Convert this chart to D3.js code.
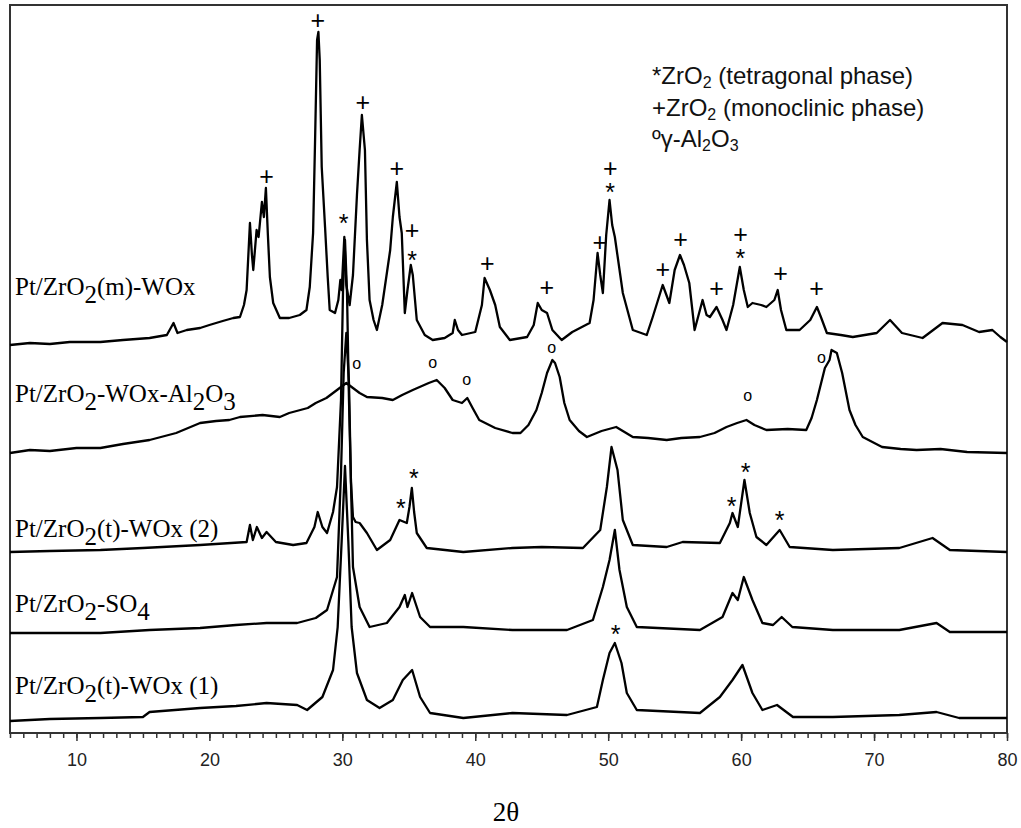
<!DOCTYPE html>
<html>
<head>
<meta charset="utf-8">
<script src="https://cdn.jsdelivr.net/npm/d3@7"></script>
<style>
body { margin: 0; background: #fff; }
</style>
</head>
<body>
<div id="chartDiv"></div>
<script>
// x axis (2θ)
var thetaRange = [5, 80];
var majorTicks = [10, 20, 30, 40, 50, 60, 70, 80];

// sample names, index 0 = top trace
var sampleNames = ["Pt/ZrO_2(m)-WOx", "Pt/ZrO_2-WOx-Al_2O_3", "Pt/ZrO_2(t)-WOx (2)", "Pt/ZrO_2-SO_4", "Pt/ZrO_2(t)-WOx (1)"];
// vertical shift of each pattern (a.u.)
var offsets = [388, 280, 181, 100, 12];

// patterns: [2θ, intensity a.u.]
var s_mWOx = [[5.0,0],[6.5,2],[8.0,1],[9.5,3],[11.8,3],[13.5,5],[15.5,7],[16.8,10],[17.3,22],[17.6,12],[18.3,15],[19.3,17],[20.0,20],[21.0,24],[21.8,27],[22.3,28],[22.6,40],[22.8,55],[23.05,122],[23.2,90],[23.3,75],[23.55,115],[23.7,108],[23.95,143],[24.1,128],[24.25,157],[24.4,110],[24.55,68],[24.8,42],[25.3,27],[26.0,27],[26.8,30],[27.3,35],[27.55,58],[27.8,112],[27.95,205],[28.1,305],[28.2,313],[28.3,285],[28.45,178],[28.7,118],[28.9,68],[29.05,35],[29.45,32],[29.7,45],[29.85,65],[29.95,55],[30.15,108],[30.3,60],[30.55,40],[30.8,70],[31.1,150],[31.3,195],[31.47,230],[31.7,195],[31.85,105],[32.05,45],[32.35,25],[32.6,15],[33.0,40],[33.35,72],[33.6,95],[33.8,128],[34.1,163],[34.3,128],[34.47,112],[34.7,32],[34.9,55],[35.15,80],[35.3,70],[35.6,25],[36.2,10],[36.8,5],[37.7,7],[38.3,12],[38.46,25],[38.7,15],[39.0,10],[40.0,13],[40.5,40],[40.7,67],[41.1,55],[41.5,40],[41.85,18],[42.6,5],[43.9,8],[44.4,20],[44.7,42],[45.0,35],[45.4,32],[45.8,15],[46.5,5],[47.3,13],[48.6,22],[48.9,45],[49.2,92],[49.4,70],[49.6,52],[49.85,110],[50.1,145],[50.3,120],[50.5,108],[51.1,52],[51.85,15],[52.9,10],[53.35,28],[54.1,60],[54.6,42],[55.0,75],[55.4,90],[55.7,80],[56.1,62],[56.5,15],[57.1,45],[57.4,30],[57.65,28],[58.15,38],[58.6,25],[58.9,15],[59.4,40],[59.9,78],[60.2,55],[60.5,38],[60.85,42],[61.5,40],[61.9,38],[62.5,45],[62.75,55],[63.0,35],[63.4,15],[64.4,15],[65.2,25],[65.7,38],[66.0,28],[66.45,12],[67.5,10],[68.4,8],[70.2,12],[71.2,25],[72.1,12],[73.65,7],[75.15,22],[76.65,20],[77.9,13],[78.9,15],[79.5,8],[80.0,3]];

var s_WOxAl = [[5.0,0],[6.5,3],[8.0,2],[10.0,5],[11.8,5],[13.5,9],[15.5,13],[17.5,20],[19.3,30],[20.5,32],[21.5,33],[22.3,36],[24.0,38],[25.3,36],[26.0,40],[27.4,45],[28.0,50],[28.8,55],[29.6,63],[30.3,70],[30.8,65],[31.3,60],[31.85,56],[33.0,55],[33.8,53],[34.5,58],[35.3,63],[36.5,70],[37.1,73],[37.7,65],[38.3,53],[39.0,50],[39.4,55],[39.8,45],[40.3,33],[41.5,25],[42.8,20],[43.4,20],[44.0,28],[44.6,43],[45.0,60],[45.4,80],[45.8,93],[46.0,90],[46.35,76],[46.7,50],[47.1,33],[47.8,22],[48.4,16],[49.5,22],[50.6,26],[51.1,22],[51.85,16],[53.0,15],[54.4,13],[55.5,15],[56.9,16],[58.0,20],[58.9,26],[59.7,30],[60.4,33],[61.0,28],[61.9,23],[63.5,24],[64.9,23],[65.3,35],[65.7,53],[66.3,85],[66.65,93],[66.8,103],[67.2,100],[67.6,80],[68.15,43],[68.6,28],[69.15,16],[70.6,6],[72.0,4],[73.2,3],[75.0,4],[77.0,1],[80.0,0]];

var s_tWOx2 = [[5.0,0],[8.0,1],[11.8,2],[15.0,4],[19.3,7],[22.8,10],[23.05,27],[23.27,12],[23.57,25],[23.95,14],[24.3,20],[25.0,10],[26.3,7],[27.3,9],[27.9,25],[28.15,40],[28.5,25],[28.85,19],[29.3,40],[29.6,65],[29.9,152],[30.05,260],[30.2,312],[30.35,260],[30.5,152],[30.65,70],[30.8,35],[31.0,30],[31.3,29],[31.85,19],[32.6,2],[33.6,12],[34.3,32],[34.85,29],[35.05,45],[35.23,64],[35.4,40],[35.6,19],[36.35,4],[39.1,0],[42.8,4],[45.0,5],[48.1,4],[49.4,22],[49.9,65],[50.25,105],[50.7,82],[51.1,32],[51.85,7],[54.4,5],[55.6,10],[58.4,9],[59.15,29],[59.35,39],[59.75,25],[60.25,72],[60.65,39],[61.15,15],[61.9,7],[62.9,22],[63.65,5],[66.9,2],[71.9,4],[74.4,14],[75.7,2],[80.0,0]];

var s_SO4 = [[5.0,0],[8.0,0],[11.8,0],[15.5,3],[19.3,5],[22.0,8],[24.3,10],[26.6,10],[28.0,15],[28.85,23],[29.6,56],[29.9,160],[30.1,260],[30.3,300],[30.5,250],[30.65,150],[30.8,66],[31.3,26],[32.05,6],[33.35,10],[34.3,26],[34.7,38],[34.9,26],[35.25,40],[35.85,16],[36.6,6],[39.1,6],[42.8,3],[46.9,3],[48.85,13],[49.6,46],[50.1,73],[50.5,103],[50.85,63],[51.4,26],[52.15,6],[56.9,3],[58.6,16],[59.35,40],[59.75,33],[60.2,56],[60.85,33],[61.6,10],[62.4,8],[63.05,16],[63.85,6],[66.9,3],[71.9,3],[74.7,10],[75.7,1],[80.0,1]];

var s_tWOx1 = [[5.0,0],[8.0,2],[11.8,3],[15.0,4],[15.5,9],[19.3,13],[22.0,15],[24.3,18],[26.6,16],[27.35,11],[28.5,24],[29.3,51],[29.65,94],[29.95,180],[30.2,255],[30.45,180],[30.7,94],[31.1,48],[31.85,21],[32.8,13],[33.8,21],[34.55,41],[35.25,51],[35.85,24],[36.6,8],[39.1,3],[42.8,8],[46.9,6],[49.15,14],[49.6,41],[50.1,68],[50.5,78],[51.0,58],[51.4,28],[52.15,11],[56.9,8],[58.4,24],[59.35,41],[60.1,56],[60.85,28],[61.6,11],[62.7,16],[63.9,4],[66.9,4],[71.9,6],[74.7,9],[76.4,3],[80.0,3]];

var patterns = [s_mWOx, s_WOxAl, s_tWOx2, s_SO4, s_tWOx1];

// phase markers: [trace index, 2θ, symbols (top to bottom), height of top symbol above the trace offset, gap between stacked symbols]
var peakMarks = [
  [0,24.3,"+",169,0],[0,28.16,"+",325,0],[0,30.1,"*",127,0],[0,31.54,"+",243,0],[0,34.1,"+",177,0],
  [0,35.25,"+*",115,25],[0,40.9,"+",82,0],[0,45.38,"+",58,0],[0,49.36,"+",103,0],
  [0,50.15,"+*",177,19],[0,54.1,"+",76,0],[0,55.45,"+",106,0],[0,58.16,"+",57,0],
  [0,59.95,"+*",111,19],[0,62.97,"+",72,0],[0,65.68,"+",57,0],
  [1,31.09,"o",88,0],[1,36.8,"o",89,0],[1,39.36,"o",72,0],[1,45.75,"o",104,0],[1,60.49,"o",56,0],[1,66.05,"o",94,0],
  [2,34.4,"*",49,0],[2,35.38,"*",79,0],[2,59.29,"*",51,0],[2,60.34,"*",85,0],[2,62.89,"*",37,0],
  [4,50.56,"*",92,0]
];

var legendLines = ["*ZrO_2 (tetragonal phase)", "+ZrO_2 (monoclinic phase)", "\u00BA\u03B3-Al_2O_3"];

var svg = d3.select("#chartDiv").append("svg")
    .attr("width", 1021)
    .attr("height", 828);

var margin = {top: 5, right: 13, bottom: 95, left: 10};
var width = 1021 - margin.left - margin.right,
    height = 828 - margin.top - margin.bottom;

var x_scale = d3.scaleLinear().domain(thetaRange).range([margin.left, margin.left + width - 1]);
var y_scale = d3.scaleLinear().domain([0, height]).range([margin.top + height, margin.top]);

// frame
svg.append("rect")
    .attr("x", margin.left).attr("y", margin.top)
    .attr("width", width - 1).attr("height", height)
    .attr("fill", "none").attr("stroke", "#333").attr("stroke-width", 2);

// minor ticks every degree, major every 10
var minorAxis = d3.axisBottom(x_scale).tickValues(d3.range(thetaRange[0], thetaRange[1] + 1, 1))
    .tickSize(5).tickFormat("");
var majorAxis = d3.axisBottom(x_scale).tickValues(majorTicks).tickSize(8).tickPadding(12)
    .tickFormat(d3.format("d"));

var gMinor = svg.append("g").attr("transform", "translate(0," + (margin.top + height) + ")").call(minorAxis);
var gMajor = svg.append("g").attr("transform", "translate(0," + (margin.top + height) + ")").call(majorAxis);
gMinor.select(".domain").remove();
gMajor.select(".domain").remove();
svg.selectAll(".tick line").attr("stroke", "#333").attr("stroke-width", 1.5);
gMajor.selectAll(".tick text")
    .attr("font-family", "Liberation Sans, Arial, sans-serif")
    .attr("font-size", 18).attr("fill", "#222");

svg.append("text")
    .attr("x", 506).attr("y", 821)
    .attr("text-anchor", "middle")
    .attr("font-family", "Liberation Serif, Times New Roman, serif")
    .attr("font-size", 27)
    .text("2\u03B8");

// patterns
var line = d3.line();
patterns.forEach(function(p, i) {
  line.x(function(d) { return x_scale(d[0]); })
      .y(function(d) { return y_scale(d[1] + offsets[i]); });
  svg.append("path").datum(p)
      .attr("class", "pattern")
      .attr("d", line)
      .attr("fill", "none")
      .attr("stroke", "#000")
      .attr("stroke-width", 2.3)
      .attr("stroke-linejoin", "round");
});

// writes "A_2B" with the digit after _ as a subscript
function addRich(textSel, str, subSize, subShift) {
  var parts = str.split(/_(\d)/);
  parts.forEach(function(s, k) {
    if (s === "") return;
    if (k % 2 === 1) {
      textSel.append("tspan").attr("dy", subShift).attr("font-size", subSize).text(s);
    } else {
      var t = textSel.append("tspan").text(s);
      if (k > 0) t.attr("dy", -subShift);
    }
  });
}

// sample labels (placed just above each pattern's left end)
var labelLift = [50, 51, 15, 21, 27];
sampleNames.forEach(function(name, i) {
  var t = svg.append("text")
      .attr("x", 15)
      .attr("y", y_scale(offsets[i] + labelLift[i]))
      .attr("font-family", "Liberation Serif, Times New Roman, serif")
      .attr("font-size", 25)
      .attr("fill", "#000");
  addRich(t, name, 25, 8);
});

// legend
legendLines.forEach(function(txt, i) {
  var t = svg.append("text")
      .attr("x", 652)
      .attr("y", 84 + i * 31.5)
      .attr("font-family", "Liberation Sans, Arial, sans-serif")
      .attr("font-size", 24)
      .attr("fill", "#111");
  addRich(t, txt, 16, 4);
});

// peak markers; stacked symbols share one text element
var markStyle = {"+": {size: 25, lift: 0.36}, "*": {size: 25, lift: 0.57}, "o": {size: 16, lift: 0.27}};
var marks = svg.append("g").selectAll("text").data(peakMarks).enter()
  .append("text")
    .attr("text-anchor", "middle")
    .attr("font-family", "Liberation Sans, Arial, sans-serif")
    .attr("fill", "#000");

marks.each(function(d) {
  var t = d3.select(this);
  var xPos = x_scale(d[1]);
  var centre = y_scale(offsets[d[0]] + d[3]);
  d[2].split("").forEach(function(sym, k) {
    var st = markStyle[sym];
    t.append("tspan")
      .attr("x", xPos)
      .attr("y", centre + k * d[4] + st.size * st.lift)
      .attr("font-size", st.size)
      .text(sym);
  });
});
</script>
</body>
</html>
